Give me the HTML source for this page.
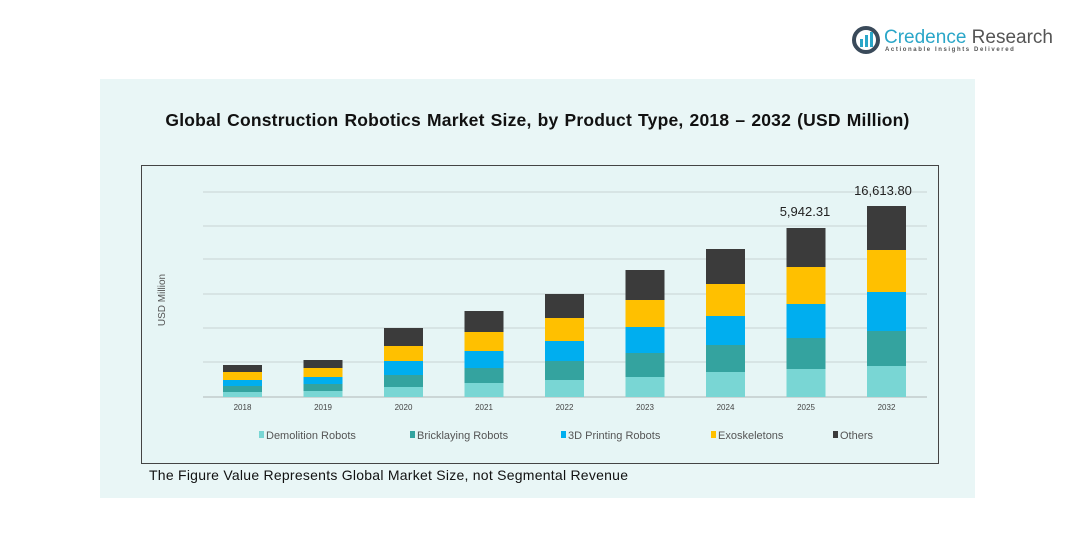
<!DOCTYPE html><html><head><style>
body{margin:0;width:1091px;height:546px;background:#fff;font-family:"Liberation Sans",sans-serif;position:relative;overflow:hidden}
.a{position:absolute}
</style></head><body>
<div class="a" style="left:100px;top:110px;width:875px;height:419px;"></div>
<div class="a" style="left:100px;top:79px;width:875px;height:419px;background:#e9f6f6"></div>
<div class="a" style="left:141px;top:165px;width:796px;height:297px;border:1px solid #444;background:#e6f5f5"></div>
<div class="a" style="left:100px;top:110px;width:875px;text-align:center;font-weight:bold;font-size:17.5px;letter-spacing:0.2px;word-spacing:1px;color:#111">Global Construction Robotics Market Size, by Product Type, 2018 – 2032 (USD Million)</div>
<div class="a" style="left:149px;top:467px;font-size:14px;letter-spacing:0.25px;color:#111">The Figure Value Represents Global Market Size, not Segmental Revenue</div>
<svg class="a" style="left:852px;top:26px" width="30" height="28"><circle cx="14" cy="14" r="12" fill="none" stroke="#3a4a5a" stroke-width="4"/><rect x="8" y="13" width="3" height="8" fill="#2aa6c8"/><rect x="13" y="9" width="3" height="12" fill="#2aa6c8"/><rect x="18" y="6" width="3" height="15" fill="#2aa6c8"/></svg>
<div class="a" style="left:884px;top:27px;font-size:19px;color:#2aa6c8">Credence <span style="color:#555">Research</span></div>
<div class="a" style="left:885px;top:47px;font-size:6px;letter-spacing:1.6px;color:#555;font-weight:bold">Actionable Insights Delivered</div>
<svg class="a" style="left:0;top:0" width="1091" height="546" font-family="Liberation Sans, sans-serif">
<g stroke="#c8d4d4" stroke-width="1">
<line x1="203" x2="927" y1="192" y2="192"/><line x1="203" x2="927" y1="226" y2="226"/><line x1="203" x2="927" y1="259" y2="259"/><line x1="203" x2="927" y1="294" y2="294"/><line x1="203" x2="927" y1="328" y2="328"/><line x1="203" x2="927" y1="362" y2="362"/><line x1="203" x2="927" y1="397" y2="397" stroke="#b0b8b8"/>
</g>
<g id="bars"></g>
<text x="165" y="300" font-size="10" fill="#555" transform="rotate(-90 165 300)" text-anchor="middle">USD Million</text>
<text x="805" y="216" font-size="13" fill="#222" text-anchor="middle">5,942.31</text>
<text x="883" y="195" font-size="13" fill="#222" text-anchor="middle">16,613.80</text>
<g font-size="8" fill="#444" text-anchor="middle" id="xl"></g>
<g font-size="11" fill="#555">
<rect x="259" y="431" width="5" height="7" fill="#79d6d4"/><text x="266" y="439">Demolition Robots</text>
<rect x="410" y="431" width="5" height="7" fill="#34a39f"/><text x="417" y="439">Bricklaying Robots</text>
<rect x="561" y="431" width="5" height="7" fill="#00aeef"/><text x="568" y="439">3D Printing Robots</text>
<rect x="711" y="431" width="5" height="7" fill="#ffc000"/><text x="718" y="439">Exoskeletons</text>
<rect x="833" y="431" width="5" height="7" fill="#3b3b3b"/><text x="840" y="439">Others</text>
</g>
</svg>
<script>
var d=[[365,372,380,386,392],[360,368,377,384,391],[328,346,361,375,387],[311,332,351,368,383],[294,318,341,361,380],[270,300,327,353,377],[249,284,316,345,372],[228,267,304,338,369],[206,250,292,331,366]];
var yrs=["2018","2019","2020","2021","2022","2023","2024","2025","2032"];
var c=["#3b3b3b","#ffc000","#00aeef","#34a39f","#79d6d4"];
var s="",t="";
d.forEach(function(b,i){var x=223+80.5*i;var ys=b.concat([397]);for(var k=0;k<5;k++){s+='<rect x="'+x+'" y="'+ys[k]+'" width="39" height="'+(ys[k+1]-ys[k])+'" fill="'+c[k]+'"/>';}
t+='<text x="'+(x+19.5)+'" y="410">'+yrs[i]+'</text>';});
document.getElementById("bars").innerHTML=s;document.getElementById("xl").innerHTML=t;
</script>
</body></html>
